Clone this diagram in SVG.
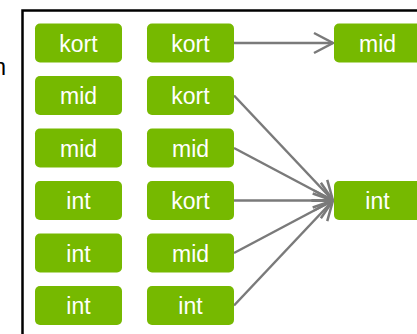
<svg xmlns="http://www.w3.org/2000/svg" width="417" height="334" viewBox="0 0 417 334">
<style>
.box{fill:#76b900;}
.lbl{font-family:"Liberation Sans",Arial,sans-serif;font-size:23px;fill:#ffffff;text-anchor:middle;}
.edge{stroke:#7a7a7a;stroke-width:2.5;fill:none;}
</style>
<defs>
<marker id="arr" markerUnits="userSpaceOnUse" markerWidth="30" markerHeight="30" viewBox="-25 -15 30 30" refX="0" refY="0" orient="auto">
<path d="M-19,-10 L0,0 L-19,10" fill="none" stroke="#7a7a7a" stroke-width="2.5" stroke-linejoin="miter"/>
</marker>
</defs>
<rect x="0" y="0" width="417" height="334" fill="#ffffff"/>
<text x="6" y="75" text-anchor="end" style="font-family:'Liberation Sans',Arial,sans-serif;font-size:23px;fill:#000">n</text>
<rect x="22.5" y="10.5" width="420" height="340" fill="none" stroke="#000" stroke-width="2.5"/>
<g id="connectors">
<line class="edge" x1="234" y1="43" x2="333" y2="43" marker-end="url(#arr)"/>
<line class="edge" x1="234" y1="95.5" x2="333" y2="200.5" marker-end="url(#arr)"/>
<line class="edge" x1="234" y1="148" x2="333" y2="200.5" marker-end="url(#arr)"/>
<line class="edge" x1="234" y1="200.5" x2="333" y2="200.5" marker-end="url(#arr)"/>
<line class="edge" x1="234" y1="253" x2="333" y2="200.5" marker-end="url(#arr)"/>
<line class="edge" x1="234" y1="305.5" x2="333" y2="200.5" marker-end="url(#arr)"/>
</g>
<g id="a1"><rect class="box" x="35" y="23.5" width="87" height="39" rx="5"/><text class="lbl" x="78.5" y="51.5">kort</text></g>
<g id="a2"><rect class="box" x="35" y="76" width="87" height="39" rx="5"/><text class="lbl" x="78.5" y="104">mid</text></g>
<g id="a3"><rect class="box" x="35" y="128.5" width="87" height="39" rx="5"/><text class="lbl" x="78.5" y="156.5">mid</text></g>
<g id="a4"><rect class="box" x="35" y="181" width="87" height="39" rx="5"/><text class="lbl" x="78.5" y="209">int</text></g>
<g id="a5"><rect class="box" x="35" y="233.5" width="87" height="39" rx="5"/><text class="lbl" x="78.5" y="261.5">int</text></g>
<g id="a6"><rect class="box" x="35" y="286" width="87" height="39" rx="5"/><text class="lbl" x="78.5" y="314">int</text></g>
<g id="b1"><rect class="box" x="147" y="23.5" width="87" height="39" rx="5"/><text class="lbl" x="190.5" y="51.5">kort</text></g>
<g id="b2"><rect class="box" x="147" y="76" width="87" height="39" rx="5"/><text class="lbl" x="190.5" y="104">kort</text></g>
<g id="b3"><rect class="box" x="147" y="128.5" width="87" height="39" rx="5"/><text class="lbl" x="190.5" y="156.5">mid</text></g>
<g id="b4"><rect class="box" x="147" y="181" width="87" height="39" rx="5"/><text class="lbl" x="190.5" y="209">kort</text></g>
<g id="b5"><rect class="box" x="147" y="233.5" width="87" height="39" rx="5"/><text class="lbl" x="190.5" y="261.5">mid</text></g>
<g id="b6"><rect class="box" x="147" y="286" width="87" height="39" rx="5"/><text class="lbl" x="190.5" y="314">int</text></g>
<g id="c1"><rect class="box" x="334" y="23.5" width="87" height="39" rx="5"/><text class="lbl" x="377.5" y="51.5">mid</text></g>
<g id="c2"><rect class="box" x="334" y="181" width="87" height="39" rx="5"/><text class="lbl" x="377.5" y="209">int</text></g>
</svg>
